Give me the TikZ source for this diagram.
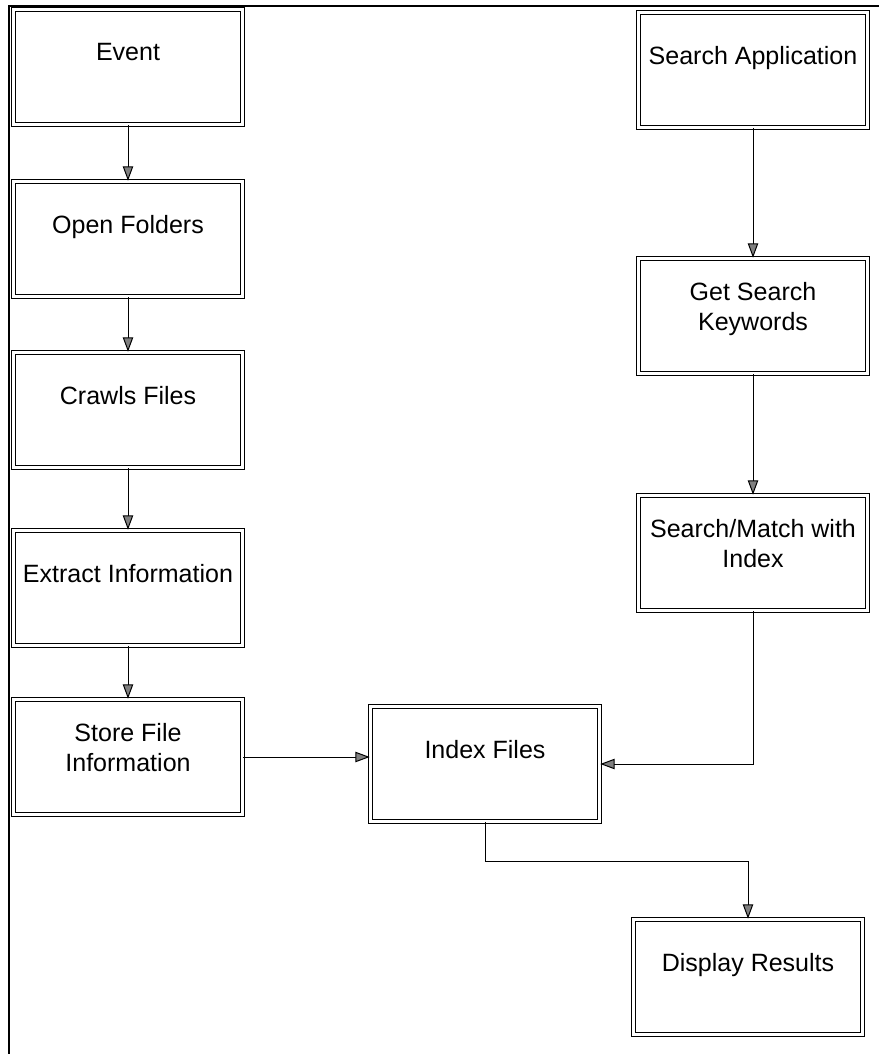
\documentclass[tikz,border=0pt]{standalone}
\usepackage{fontspec}
\setmainfont{Liberation Sans}
\usepackage{tikz}
\usetikzlibrary{arrows.meta,positioning,calc}

% empty last line lifts the label into the upper half of the box
\newcommand{\lowpad}{\\\mbox{}}
\newcommand{\lowpadsm}{\\[-8pt]\mbox{}}

\tikzset{
  procbox/.style={draw,line width=1.1pt,double,double distance=1.6pt,
    minimum width=57.25mm,minimum height=28.75mm,inner sep=2pt,align=center},
  flow/.style={line width=0.7pt,-{Triangle[length=3.6mm,width=2.6mm,fill=gray]}},
  frame/.style={line width=1.2pt}
}

\begin{document}
\begin{tikzpicture}[x=0.25mm,y=-0.25mm,font=\fontsize{17.8}{21.3}\selectfont]
  \useasboundingbox (0,0) rectangle (879,1054);
  % page frame (top and left edge)
  \draw[frame] (9,1054) -- (9,6) -- (879,6);

  % crawler column
  \foreach \nm/\yy/\txt in {event/67/{Event\lowpad},open/239/{Open Folders\lowpad},
      crawl/410/{Crawls Files\lowpad},extract/588/{Extract Information\lowpad},
      store/757/{Store File\\Information\lowpadsm}}{
    \node[procbox] (\nm) at (128,\yy) {\txt};
  }
  \foreach \a/\b in {event/open,open/crawl,crawl/extract,extract/store}{
    \draw[flow] (\a) -- (\b);
  }

  % search column
  \node[procbox] (app) at (753,70) {Search Application\lowpad};
  \node[procbox] (keys) at (753,316) {Get Search\\Keywords\lowpadsm};
  \node[procbox] (match) at (753,553) {Search/Match with\\Index\lowpadsm};
  \node[procbox] (index) at (485,764) {Index Files\lowpad};
  \node[procbox] (show) at (748,977) {Display Results\lowpad};

  \draw[flow] (app) -- (keys);
  \draw[flow] (keys) -- (match);
  \draw[flow] (store.east) -- (store.east -| index.west);
  \draw[flow] (match.south) |- (index.east);
  \draw[flow] (index.south) -- ++(0,39) -| (show.north);
\end{tikzpicture}
\end{document}
